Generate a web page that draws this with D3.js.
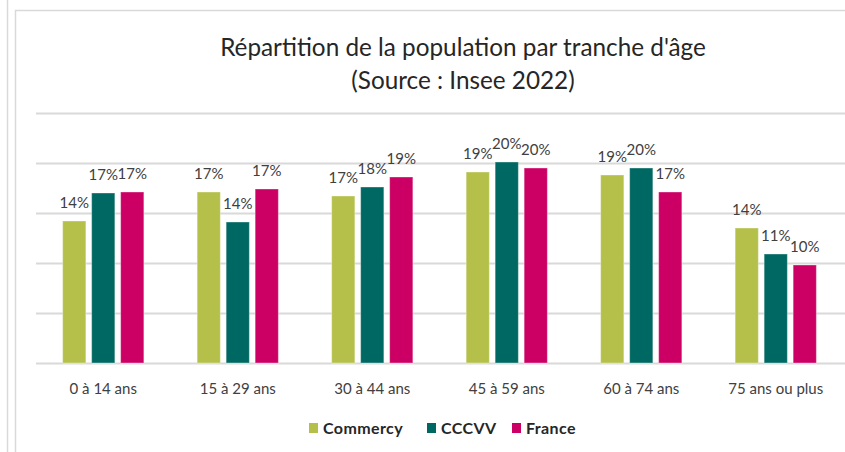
<!DOCTYPE html>
<html>
<head>
<meta charset="utf-8">
<script src="https://cdn.jsdelivr.net/npm/d3@7"></script>
<style>
  body { margin: 0; background: #fff; }
  svg { display: block; font-family: Lato, "Open Sans", sans-serif; }
</style>
</head>
<body>
<div id="chart"></div>
<script>
// data
const categories = ["0 à 14 ans", "15 à 29 ans", "30 à 44 ans", "45 à 59 ans", "60 à 74 ans", "75 ans ou plus"];
const series = ["Commercy", "CCCVV", "France"];
const commercy = [14.2, 17.1, 16.7, 19.1, 18.8, 13.5];
const cccvv    = [17.0, 14.1, 17.6, 20.1, 19.5, 10.9];
const france   = [17.1, 17.4, 18.6, 19.5, 17.1, 9.8];
const yTicks = [0, 5, 10, 15, 20, 25];
const titleLines = ["Répartition de la population par tranche d'âge", "(Source : Insee 2022)"];

const colors = { Commercy: "#b4c04a", CCCVV: "#006862", France: "#cc0064" };

const W = 845, H = 452;
const plot = { left: 36, right: 843, top: 113, bottom: 363 };

const svg = d3.select("#chart").append("svg")
  .attr("width", W).attr("height", H);

// frame lines (chart is cropped on the right)
svg.append("line").attr("x1", 7.5).attr("x2", 7.5).attr("y1", 0).attr("y2", H)
  .attr("stroke", "#d9d9d9").attr("stroke-width", 1.5);
svg.append("path").attr("d", `M15.5,${H} V10.5 H${W}`)
  .attr("fill", "none").attr("stroke", "#d9d9d9").attr("stroke-width", 1.5);

// title
svg.append("g").selectAll("text").data(titleLines).enter().append("text")
  .attr("x", 463).attr("y", (d, i) => 56 + i * 33)
  .attr("text-anchor", "middle")
  .style("font-size", "24.3px").attr("fill", "#262626")
  .text(d => d);

const x0 = d3.scaleBand().domain(categories).range([plot.left, plot.right]);
const x1 = d3.scaleBand().domain(series).range([-43.5, 43.5]).paddingInner(0.2).paddingOuter(0.1);
const y = d3.scaleLinear().domain([0, 25]).range([plot.bottom, plot.top]);

// grid lines
const grid = svg.append("g").attr("transform", `translate(${plot.left},0)`)
  .call(d3.axisLeft(y).tickValues(yTicks).tickSize(-(W - plot.left)).tickFormat(""));
grid.select(".domain").remove();
grid.selectAll(".tick line").attr("stroke", "#d9d9d9").attr("stroke-width", 2);

const table = categories.map((c, i) => ({
  cat: c,
  vals: [
    { s: "Commercy", v: commercy[i] },
    { s: "CCCVV", v: cccvv[i] },
    { s: "France", v: france[i] }
  ]
}));

const groups = svg.selectAll(".grp").data(table).enter().append("g")
  .attr("class", "grp")
  .attr("transform", d => `translate(${x0(d.cat) + x0.bandwidth() / 2},0)`);

groups.selectAll("rect").data(d => d.vals).enter().append("rect")
  .attr("x", d => x1(d.s))
  .attr("width", x1.bandwidth())
  .attr("y", d => y(d.v))
  .attr("height", d => y(0) - y(d.v))
  .attr("fill", d => colors[d.s])
  .attr("stroke", "#fff").attr("stroke-opacity", 0.35).attr("stroke-width", 1);

groups.selectAll("text.lbl").data(d => d.vals).enter().append("text")
  .attr("class", "lbl")
  .attr("x", d => x1(d.s) + x1.bandwidth() / 2)
  .attr("y", d => y(d.v) - 13)
  .attr("text-anchor", "middle")
  .style("font-size", "15px").attr("fill", "#404040")
  .text(d => Math.round(d.v) + "%");

// category axis labels
const xAxis = svg.append("g").attr("transform", `translate(0,${plot.bottom})`)
  .call(d3.axisBottom(x0).tickSize(0).tickPadding(20));
xAxis.select(".domain").remove();
xAxis.selectAll("text").style("font-size", "15px").style("font-family", "Lato, sans-serif").attr("fill", "#404040");

// legend
const legendX = [309, 427, 512];
const legend = svg.append("g").selectAll("g").data(series).enter().append("g")
  .attr("transform", (d, i) => `translate(${legendX[i]},423)`);
legend.append("rect").attr("width", 9).attr("height", 10).attr("fill", d => colors[d]);
legend.append("text").attr("x", 14).attr("y", 10.5)
  .style("font-size", "16px").style("font-weight", "bold").style("letter-spacing", "0.4px")
  .attr("fill", "#262626")
  .text(d => d);
</script>
</body>
</html>
